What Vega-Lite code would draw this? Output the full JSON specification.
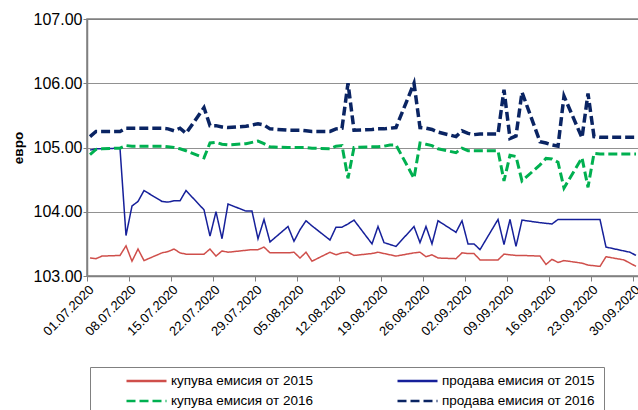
{
  "$schema": "https://vega.github.io/schema/vega-lite/v6.json",
  "autosize": "none",
  "width": 552,
  "height": 257,
  "padding": {"left": 87, "top": 19, "right": 0, "bottom": 134},
  "background": "white",
  "config": {
    "font": "Liberation Sans",
    "view": {"stroke": "#808080", "strokeWidth": 1.5},
    "axis": {"domainColor": "#808080", "tickColor": "#808080", "labelColor": "#000000", "titleColor": "#000000", "domainWidth": 1.5}
  },
  "data": {"values": [
    {"date":"2020-07-01T12:00","купува емисия от 2015":103.28,"продава емисия от  2015":104.96,"купува емисия от 2016":104.89,"продава емисия от 2016":105.17},
    {"date":"2020-07-02T12:00","купува емисия от 2015":103.27,"продава емисия от  2015":104.98,"купува емисия от 2016":104.97,"продава емисия от 2016":105.25},
    {"date":"2020-07-03T12:00","купува емисия от 2015":103.31,"продава емисия от  2015":104.98,"купува емисия от 2016":104.98,"продава емисия от 2016":105.25},
    {"date":"2020-07-06T12:00","купува емисия от 2015":103.32,"продава емисия от  2015":104.99,"купува емисия от 2016":104.99,"продава емисия от 2016":105.25},
    {"date":"2020-07-07T12:00","купува емисия от 2015":103.47,"продава емисия от  2015":103.63,"купува емисия от 2016":105.03,"продава емисия от 2016":105.30},
    {"date":"2020-07-08T12:00","купува емисия от 2015":103.23,"продава емисия от  2015":104.09,"купува емисия от 2016":105.02,"продава емисия от 2016":105.30},
    {"date":"2020-07-09T12:00","купува емисия от 2015":103.42,"продава емисия от  2015":104.16,"купува емисия от 2016":105.02,"продава емисия от 2016":105.30},
    {"date":"2020-07-10T12:00","купува емисия от 2015":103.24,"продава емисия от  2015":104.33,"купува емисия от 2016":105.02,"продава емисия от 2016":105.30},
    {"date":"2020-07-13T12:00","купува емисия от 2015":103.36,"продава емисия от  2015":104.16,"купува емисия от 2016":105.02,"продава емисия от 2016":105.30},
    {"date":"2020-07-14T12:00","купува емисия от 2015":103.38,"продава емисия от  2015":104.15,"купува емисия от 2016":105.01,"продава емисия от 2016":105.29},
    {"date":"2020-07-15T12:00","купува емисия от 2015":103.42,"продава емисия от  2015":104.17,"купува емисия от 2016":105.00,"продава емисия от 2016":105.26},
    {"date":"2020-07-16T12:00","купува емисия от 2015":103.36,"продава емисия от  2015":104.17,"купува емисия от 2016":104.98,"продава емисия от 2016":105.30},
    {"date":"2020-07-17T12:00","купува емисия от 2015":103.34,"продава емисия от  2015":104.33,"купува емисия от 2016":104.95,"продава емисия от 2016":105.22},
    {"date":"2020-07-20T12:00","купува емисия от 2015":103.34,"продава емисия от  2015":104.03,"купува емисия от 2016":104.84,"продава емисия от 2016":105.62},
    {"date":"2020-07-21T12:00","купува емисия от 2015":103.42,"продава емисия от  2015":103.62,"купува емисия от 2016":105.07,"продава емисия от 2016":105.34},
    {"date":"2020-07-22T12:00","купува емисия от 2015":103.31,"продава емисия от  2015":104.00,"купува емисия от 2016":105.08,"продава емисия от 2016":105.34},
    {"date":"2020-07-23T12:00","купува емисия от 2015":103.39,"продава емисия от  2015":103.58,"купува емисия от 2016":105.05,"продава емисия от 2016":105.32},
    {"date":"2020-07-24T12:00","купува емисия от 2015":103.37,"продава емисия от  2015":104.12,"купува емисия от 2016":105.04,"продава емисия от 2016":105.31},
    {"date":"2020-07-27T12:00","купува емисия от 2015":103.40,"продава емисия от  2015":104.01,"купува емисия от 2016":105.06,"продава емисия от 2016":105.33},
    {"date":"2020-07-28T12:00","купува емисия от 2015":103.41,"продава емисия от  2015":104.01,"купува емисия от 2016":105.08,"продава емисия от 2016":105.35},
    {"date":"2020-07-29T12:00","купува емисия от 2015":103.41,"продава емисия от  2015":103.58,"купува емисия от 2016":105.10,"продава емисия от 2016":105.37},
    {"date":"2020-07-30T12:00","купува емисия от 2015":103.45,"продава емисия от  2015":103.88,"купува емисия от 2016":105.06,"продава емисия от 2016":105.35},
    {"date":"2020-07-31T12:00","купува емисия от 2015":103.36,"продава емисия от  2015":103.53,"купува емисия от 2016":105.01,"продава емисия от 2016":105.29},
    {"date":"2020-08-03T12:00","купува емисия от 2015":103.36,"продава емисия от  2015":103.77,"купува емисия от 2016":105.00,"продава емисия от 2016":105.27},
    {"date":"2020-08-04T12:00","купува емисия от 2015":103.37,"продава емисия от  2015":103.54,"купува емисия от 2016":105.00,"продава емисия от 2016":105.27},
    {"date":"2020-08-05T12:00","купува емисия от 2015":103.28,"продава емисия от  2015":103.72,"купува емисия от 2016":105.00,"продава емисия от 2016":105.27},
    {"date":"2020-08-06T12:00","купува емисия от 2015":103.37,"продава емисия от  2015":103.86,"купува емисия от 2016":105.00,"продава емисия от 2016":105.26},
    {"date":"2020-08-07T12:00","купува емисия от 2015":103.23,"продава емисия от  2015":103.78,"купува емисия от 2016":104.99,"продава емисия от 2016":105.25},
    {"date":"2020-08-10T12:00","купува емисия от 2015":103.37,"продава емисия от  2015":103.56,"купува емисия от 2016":104.98,"продава емисия от 2016":105.25},
    {"date":"2020-08-11T12:00","купува емисия от 2015":103.33,"продава емисия от  2015":103.76,"купува емисия от 2016":105.02,"продава емисия от 2016":105.29},
    {"date":"2020-08-12T12:00","купува емисия от 2015":103.36,"продава емисия от  2015":103.76,"купува емисия от 2016":105.03,"продава емисия от 2016":105.30},
    {"date":"2020-08-13T12:00","купува емисия от 2015":103.37,"продава емисия от  2015":103.81,"купува емисия от 2016":104.52,"продава емисия от 2016":106.00},
    {"date":"2020-08-14T12:00","купува емисия от 2015":103.32,"продава емисия от  2015":103.87,"купува емисия от 2016":105.00,"продава емисия от 2016":105.27},
    {"date":"2020-08-17T12:00","купува емисия от 2015":103.35,"продава емисия от  2015":103.50,"купува емисия от 2016":105.01,"продава емисия от 2016":105.28},
    {"date":"2020-08-18T12:00","купува емисия от 2015":103.37,"продава емисия от  2015":103.77,"купува емисия от 2016":105.01,"продава емисия от 2016":105.29},
    {"date":"2020-08-19T12:00","купува емисия от 2015":103.35,"продава емисия от  2015":103.52,"купува емисия от 2016":105.02,"продава емисия от 2016":105.29},
    {"date":"2020-08-20T12:00","купува емисия от 2015":103.33,"продава емисия от  2015":103.49,"купува емисия от 2016":105.04,"продава емисия от 2016":105.30},
    {"date":"2020-08-21T12:00","купува емисия от 2015":103.31,"продава емисия от  2015":103.46,"купува емисия от 2016":105.04,"продава емисия от 2016":105.31},
    {"date":"2020-08-24T12:00","купува емисия от 2015":103.36,"продава емисия от  2015":103.77,"купува емисия от 2016":104.52,"продава емисия от 2016":106.00},
    {"date":"2020-08-25T12:00","купува емисия от 2015":103.37,"продава емисия от  2015":103.52,"купува емисия от 2016":105.07,"продава емисия от 2016":105.31},
    {"date":"2020-08-26T12:00","купува емисия от 2015":103.30,"продава емисия от  2015":103.77,"купува емисия от 2016":105.05,"продава емисия от 2016":105.30},
    {"date":"2020-08-27T12:00","купува емисия от 2015":103.33,"продава емисия от  2015":103.50,"купува емисия от 2016":105.03,"продава емисия от 2016":105.28},
    {"date":"2020-08-28T12:00","купува емисия от 2015":103.28,"продава емисия от  2015":103.86,"купува емисия от 2016":104.98,"продава емисия от 2016":105.24},
    {"date":"2020-08-31T12:00","купува емисия от 2015":103.27,"продава емисия от  2015":103.68,"купува емисия от 2016":104.92,"продава емисия от 2016":105.17},
    {"date":"2020-09-01T12:00","купува емисия от 2015":103.36,"продава емисия от  2015":103.86,"купува емисия от 2016":104.99,"продава емисия от 2016":105.26},
    {"date":"2020-09-02T12:00","купува емисия от 2015":103.35,"продава емисия от  2015":103.50,"купува емисия от 2016":104.95,"продава емисия от 2016":105.22},
    {"date":"2020-09-03T12:00","купува емисия от 2015":103.35,"продава емисия от  2015":103.50,"купува емисия от 2016":104.95,"продава емисия от 2016":105.20},
    {"date":"2020-09-04T12:00","купува емисия от 2015":103.25,"продава емисия от  2015":103.41,"купува емисия от 2016":104.95,"продава емисия от 2016":105.21},
    {"date":"2020-09-07T12:00","купува емисия от 2015":103.25,"продава емисия от  2015":103.88,"купува емисия от 2016":104.95,"продава емисия от 2016":105.21},
    {"date":"2020-09-08T12:00","купува емисия от 2015":103.34,"продава емисия от  2015":103.49,"купува емисия от 2016":104.48,"продава емисия от 2016":105.90},
    {"date":"2020-09-09T12:00","купува емисия от 2015":103.33,"продава емисия от  2015":103.88,"купува емисия от 2016":104.88,"продава емисия от 2016":105.14},
    {"date":"2020-09-10T12:00","купува емисия от 2015":103.32,"продава емисия от  2015":103.46,"купува емисия от 2016":104.86,"продава емисия от 2016":105.18},
    {"date":"2020-09-11T12:00","купува емисия от 2015":103.32,"продава емисия от  2015":103.87,"купува емисия от 2016":104.48,"продава емисия от 2016":105.86},
    {"date":"2020-09-14T12:00","купува емисия от 2015":103.31,"продава емисия от  2015":103.83,"купува емисия от 2016":104.73,"продава емисия от 2016":105.09},
    {"date":"2020-09-15T12:00","купува емисия от 2015":103.18,"продава емисия от  2015":103.82,"купува емисия от 2016":104.83,"продава емисия от 2016":105.07},
    {"date":"2020-09-16T12:00","купува емисия от 2015":103.26,"продава емисия от  2015":103.81,"купува емисия от 2016":104.82,"продава емисия от 2016":105.04},
    {"date":"2020-09-17T12:00","купува емисия от 2015":103.21,"продава емисия от  2015":103.88,"купува емисия от 2016":104.77,"продава емисия от 2016":105.02},
    {"date":"2020-09-18T12:00","купува емисия от 2015":103.24,"продава емисия от  2015":103.88,"купува емисия от 2016":104.37,"продава емисия от 2016":105.80},
    {"date":"2020-09-21T12:00","купува емисия от 2015":103.20,"продава емисия от  2015":103.88,"купува емисия от 2016":104.84,"продава емисия от 2016":105.15},
    {"date":"2020-09-22T12:00","купува емисия от 2015":103.17,"продава емисия от  2015":103.88,"купува емисия от 2016":104.38,"продава емисия от 2016":105.84},
    {"date":"2020-09-23T12:00","купува емисия от 2015":103.16,"продава емисия от  2015":103.88,"купува емисия от 2016":104.91,"продава емисия от 2016":105.17},
    {"date":"2020-09-24T12:00","купува емисия от 2015":103.15,"продава емисия от  2015":103.88,"купува емисия от 2016":104.90,"продава емисия от 2016":105.16},
    {"date":"2020-09-25T12:00","купува емисия от 2015":103.30,"продава емисия от  2015":103.45,"купува емисия от 2016":104.90,"продава емисия от 2016":105.16},
    {"date":"2020-09-28T12:00","купува емисия от 2015":103.25,"продава емисия от  2015":103.39,"купува емисия от 2016":104.90,"продава емисия от 2016":105.16},
    {"date":"2020-09-29T12:00","купува емисия от 2015":103.20,"продава емисия от  2015":103.37,"купува емисия от 2016":104.90,"продава емисия от 2016":105.16},
    {"date":"2020-09-30T12:00","купува емисия от 2015":103.15,"продава емисия от  2015":103.32,"купува емисия от 2016":104.90,"продава емисия от 2016":105.16}
  ]},
  "transform": [
    {"fold": ["купува емисия от 2015", "продава емисия от  2015", "купува емисия от 2016", "продава емисия от 2016"], "as": ["series", "value"]}
  ],
  "mark": {"type": "line", "clip": true},
  "encoding": {
    "x": {
      "field": "date", "type": "temporal",
      "scale": {"domain": [{"year": 2020, "month": 7, "date": 1}, {"year": 2020, "month": 10, "date": 1}]},
      "axis": {
        "title": null, "grid": false, "format": "%d.%m.%Y", "labelAngle": -45, "labelFontSize": 13,
        "tickSize": 5, "labelPadding": 2, "labelOverlap": false,
        "values": [
          {"year": 2020, "month": 7, "date": 1}, {"year": 2020, "month": 7, "date": 8}, {"year": 2020, "month": 7, "date": 15},
          {"year": 2020, "month": 7, "date": 22}, {"year": 2020, "month": 7, "date": 29}, {"year": 2020, "month": 8, "date": 5},
          {"year": 2020, "month": 8, "date": 12}, {"year": 2020, "month": 8, "date": 19}, {"year": 2020, "month": 8, "date": 26},
          {"year": 2020, "month": 9, "date": 2}, {"year": 2020, "month": 9, "date": 9}, {"year": 2020, "month": 9, "date": 16},
          {"year": 2020, "month": 9, "date": 23}, {"year": 2020, "month": 9, "date": 30}
        ]
      }
    },
    "y": {
      "field": "value", "type": "quantitative",
      "scale": {"domain": [103, 107], "zero": false, "nice": false},
      "axis": {
        "title": "евро", "titleFontSize": 13.5, "titleFontWeight": "bold", "titlePadding": 8,
        "values": [103, 104, 105, 106, 107], "format": ".2f", "labelFontSize": 16, "labelPadding": 1, "tickSize": 4,
        "grid": true,
        "gridColor": {"condition": {"test": "datum.value === 103 || datum.value === 107", "value": "#808080"}, "value": "#222222"},
        "gridDash": {"condition": {"test": "datum.value === 103 || datum.value === 107", "value": []}, "value": [1, 1]},
        "gridWidth": 1
      }
    },
    "color": {
      "field": "series", "type": "nominal",
      "scale": {
        "domain": ["купува емисия от 2015", "продава емисия от  2015", "купува емисия от 2016", "продава емисия от 2016"],
        "range": ["#cf4f4b", "#16209a", "#00b050", "#0a2463"]
      },
      "legend": {
        "title": null, "orient": "none", "legendX": 3, "legendY": 348, "columns": 2, "direction": "horizontal",
        "symbolType": "stroke", "symbolSize": 1600, "symbolStrokeWidth": 2.5, "clipHeight": 18, "rowPadding": 2,
        "columnPadding": 52, "padding": 5, "strokeColor": "#808080", "symbolOffset": 30, "labelOffset": 3,
        "labelFontSize": 13.5, "labelColor": "#000000", "labelLimit": 300
      }
    },
    "strokeDash": {
      "field": "series", "type": "nominal",
      "scale": {
        "domain": ["купува емисия от 2015", "продава емисия от  2015", "купува емисия от 2016", "продава емисия от 2016"],
        "range": [[1, 0], [1, 0], [9, 4], [9, 4]]
      }
    },
    "strokeWidth": {
      "condition": [
        {"test": "datum.series === 'купува емисия от 2016'", "value": 3},
        {"test": "datum.series === 'продава емисия от 2016'", "value": 3.5}
      ],
      "value": 1.5
    }
  }
}
